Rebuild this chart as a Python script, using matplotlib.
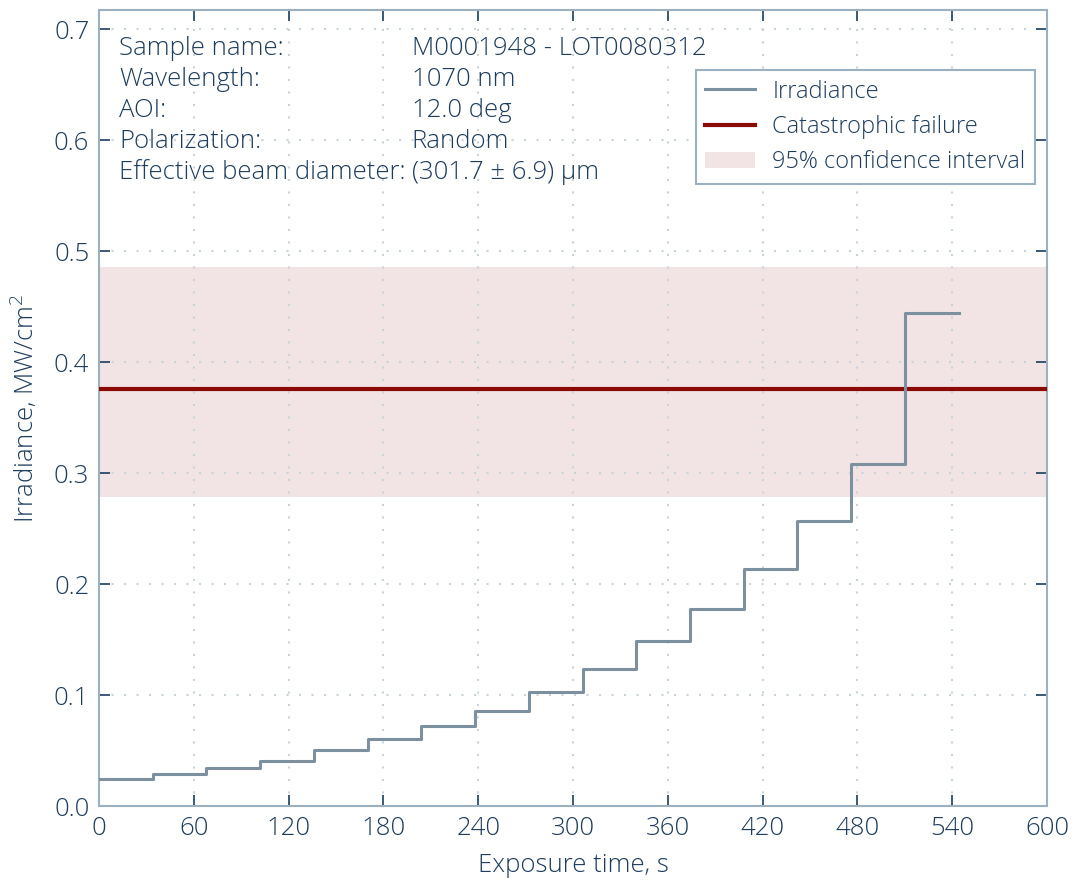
import matplotlib
matplotlib.use('Agg')
import matplotlib.pyplot as plt
from matplotlib.patches import Patch
from matplotlib.lines import Line2D

# Data
time_s = [0, 34, 68, 102, 136, 170, 204, 238, 272, 306, 340, 374, 408, 442, 476, 510, 544]
irradiance = [0.0241, 0.0292, 0.0346, 0.0409, 0.0502, 0.0601, 0.0720, 0.0860, 0.1025,
              0.1239, 0.1490, 0.1780, 0.2140, 0.2570, 0.3080, 0.4440, 0.4440]
failure_level = 0.3757
ci_low = 0.2787
ci_high = 0.4860

info_keys = ['Sample name:', 'Wavelength:', 'AOI:', 'Polarization:', 'Effective beam diameter:']
info_vals = ['M0001948 - LOT0080312', '1070 nm', '12.0 deg', 'Random', '(301.7 ± 6.9) µm']

x_ticks = [0, 60, 120, 180, 240, 300, 360, 420, 480, 540, 600]
y_ticks = [0.0, 0.1, 0.2, 0.3, 0.4, 0.5, 0.6, 0.7]

# Colours
text_col = '#1d3d5c'
spine_col = '#9bb0c0'
line_col = '#7d909f'
fail_col = '#8b0a05'
ci_col = '#f2e4e5'
grid_col = '#c9d3da'

fs = 18.5
leg_fs = 17

plt.rcParams['font.family'] = ['Open Sans', 'DejaVu Sans']
plt.rcParams['font.weight'] = 'light'
plt.rcParams['axes.labelweight'] = 'light'

fig = plt.figure(figsize=(10.75, 8.81), dpi=100)
ax = fig.add_axes([0.0921, 0.0851, 0.8819, 0.9035])

ax.axhspan(ci_low, ci_high, color=ci_col, lw=0, zorder=1)
ax.axhline(failure_level, color=fail_col, lw=3, zorder=3)
ax.step(time_s, irradiance, where='post', color=line_col, lw=2.2, zorder=4)

ax.set_xlim(0, 600)
ax.set_ylim(0, 0.7175)
ax.set_xticks(x_ticks)
ax.set_yticks(y_ticks)
ax.set_yticklabels([f'{v:.1f}' for v in y_ticks])

ax.grid(True, linestyle=(0, (1, 5)), color=grid_col, lw=1.5, zorder=0)
ax.tick_params(direction='in', length=8, width=1.2, color=text_col,
               labelcolor=text_col, labelsize=fs, pad=7,
               top=True, right=True)
for s in ax.spines.values():
    s.set_color(spine_col)
    s.set_linewidth(1.5)

ax.set_xlabel('Exposure time, s', fontsize=fs, color=text_col, labelpad=9,
              fontweight='light')
ax.set_ylabel('Irradiance, MW/cm$^2$', fontsize=fs, color=text_col, labelpad=10,
              fontweight='light')

# Sample info block
for i, (k, v) in enumerate(zip(info_keys, info_vals)):
    yy = 0.952 - i * 0.039
    ax.text(0.021, yy, k, transform=ax.transAxes, fontsize=fs, color=text_col,
            va='center', ha='left')
    ax.text(0.330, yy, v, transform=ax.transAxes, fontsize=fs, color=text_col,
            va='center', ha='left')

handles = [Line2D([], [], color=line_col, lw=2.2),
           Line2D([], [], color=fail_col, lw=3),
           Patch(facecolor=ci_col, edgecolor='none')]
labels = ['Irradiance', 'Catastrophic failure', '95% confidence interval']
leg = ax.legend(handles, labels, loc='upper right', bbox_to_anchor=(0.9873, 0.9246),
                fontsize=leg_fs, frameon=True, fancybox=False, framealpha=1,
                edgecolor=spine_col, handlelength=2.1, handletextpad=0.75,
                borderpad=0.4, labelspacing=0.48, borderaxespad=0)
leg.get_frame().set_linewidth(1.5)
for t in leg.get_texts():
    t.set_color(text_col)

fig.savefig('out.png', dpi=100)
